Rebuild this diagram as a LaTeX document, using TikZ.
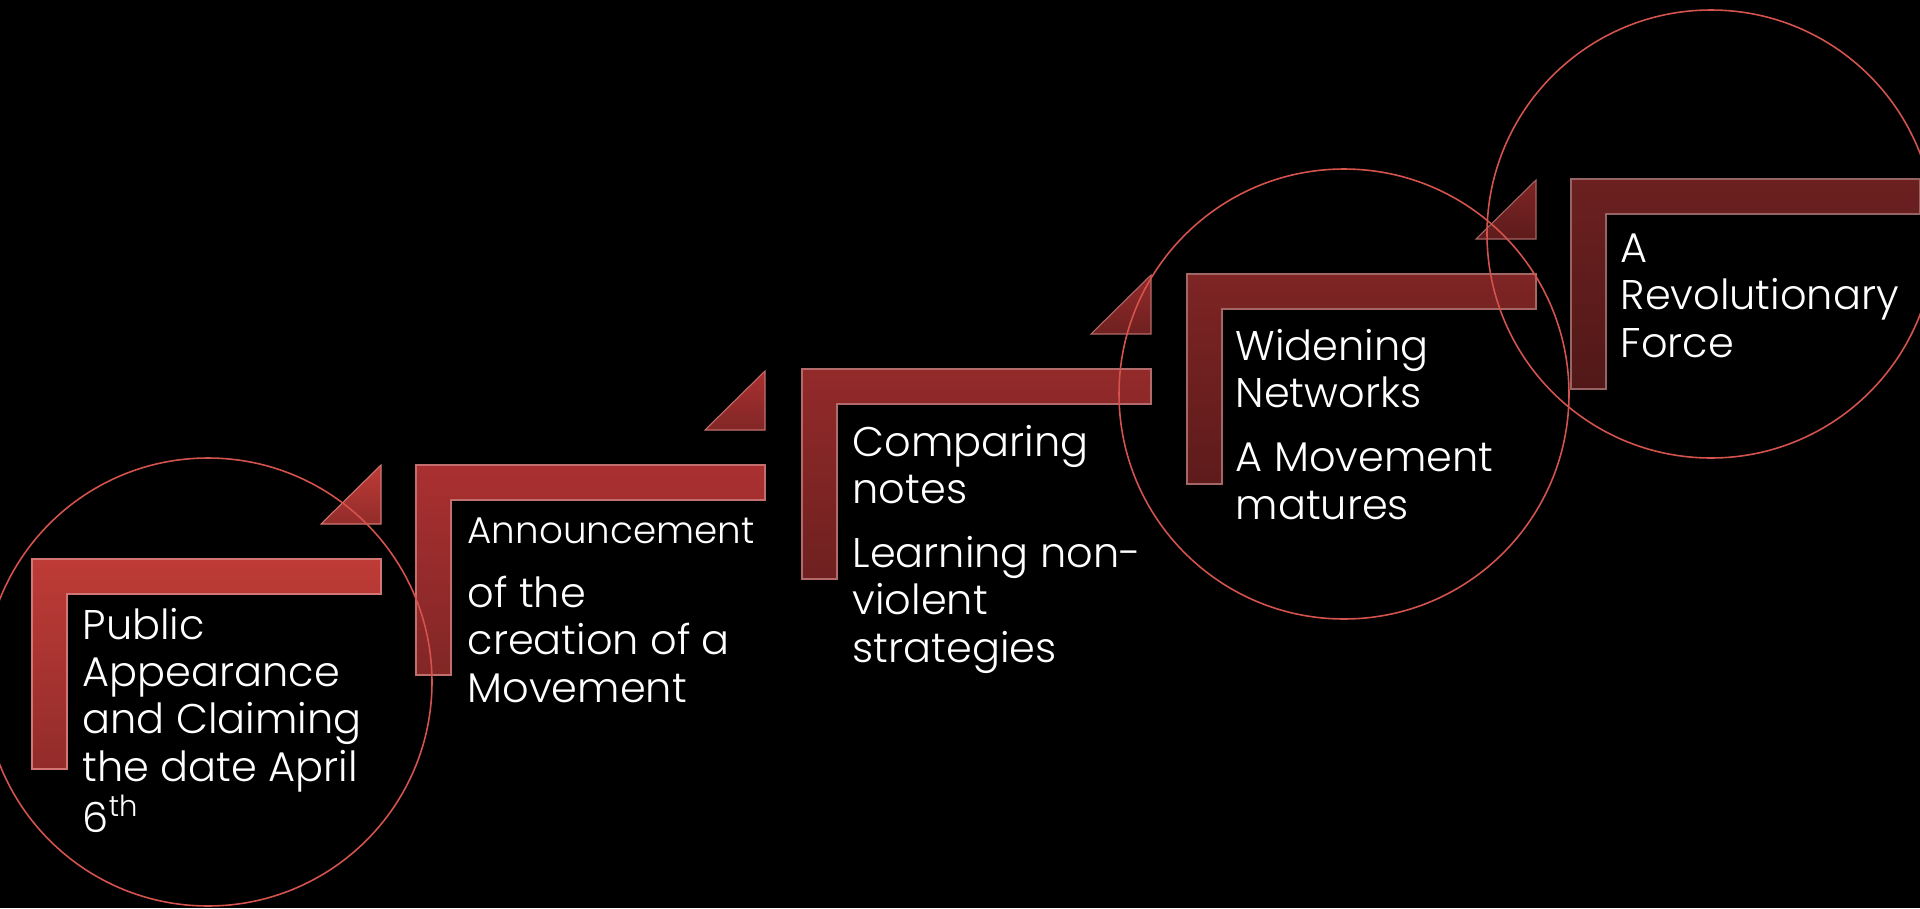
\documentclass[tikz,border=0pt]{standalone}
\usepackage{fontspec}
\setmainfont{Poppins Light}
\usetikzlibrary{calc}

\definecolor{ringred}{HTML}{D4534D}

\begin{document}
\begin{tikzpicture}
	[x=0.1mm,y=-0.1mm,
	ring/.style={draw=ringred, line width=0.45pt},
	steptext/.style={anchor=base west, text=white, align=left, inner sep=0pt, font=\fontsize{11.8}{13.4}\selectfont}];

	%Background
	\fill[black] (0,0) rectangle (1920,908);
	\useasboundingbox (0,0) rectangle (1920,908);

	%Steps
	\foreach \i/\sx/\sy/\ct/\cb in {1/32/559/BE3B37/922C2A, 2/416/465/AA3030/822626, 3/802/369/932A2A/6F2020, 4/1187/274/7E2424/5E1B1B, 5/1571/179/6C2020/521818}{
		\definecolor{steptop}{HTML}{\ct}
		\definecolor{stepbot}{HTML}{\cb}
		\coordinate (s\i) at (\sx,\sy);
		\shade[top color=steptop, bottom color=stepbot, draw=steptop!70!white, line width=0.3pt]
			(s\i) -- ++(349,0) -- ++(0,35) -- ++(-314,0) -- ++(0,175) -- ++(-35,0) -- cycle;
		\ifnum\i<5
			\shade[top color=steptop, bottom color=stepbot, draw=steptop!70!white, line width=0.3pt]
				($(s\i)+(349,-35)$) -- ++(0,-59) -- ++(-60,59) -- cycle;
		\fi
	}

	%Rings
	\draw[ring] (208,682) circle (224);
	\draw[ring] (1344,394) circle (225);
	\draw[ring] (1711,234) circle (224);

	%Texts (anchored on the last line)
	\node[steptext] (pub) at ($(s1)+(50,273)$) {Public\\Appearance\\and Claiming\\the date April\\6\textsuperscript{th}};
	\node[steptext] (ann) at ($(s2)+(51,237)$) {{\fontsize{10.6}{13.4}\selectfont Announcement}\\[5pt]of the\\creation of a\\Movement};
	\node[steptext] (cmp) at ($(s3)+(50,293)$) {Comparing\\notes\\[5pt]Learning non-\\violent\\strategies};
	\node[steptext] (wid) at ($(s4)+(48,245)$) {Widening\\Networks\\[5pt]A Movement\\matures};
	\node[steptext] (rev) at ($(s5)+(49,178)$) {A\\Revolutionary\\Force};
\end{tikzpicture}
\end{document}
